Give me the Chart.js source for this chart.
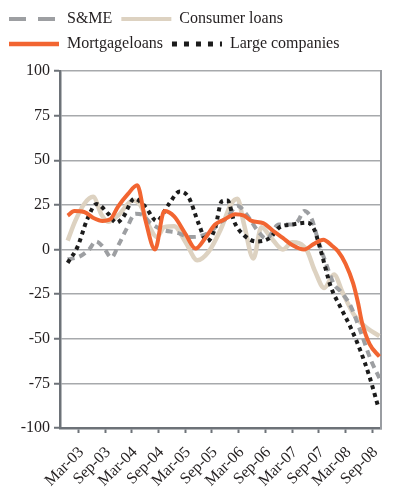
<!DOCTYPE html>
<html><head><meta charset="utf-8">
<script src="https://cdn.jsdelivr.net/npm/chart.js@4/dist/chart.umd.min.js"></script>
<style>html,body{margin:0;padding:0;background:#fff;}</style>
</head><body>
<canvas id="c" width="396" height="487"></canvas>
<script>
// x positions are months counted from Mar-03 (Mar-03 = 0)
const tickLabels = ['Mar-03','Sep-03','Mar-04','Sep-04','Mar-05','Sep-05','Mar-06','Sep-06','Mar-07','Sep-07','Mar-08','Sep-08'];
const tickMonths = [0,6,12,18,24,30,36,42,48,54,60,66];
const yTicks = [-100,-75,-50,-25,0,25,50,75,100];

const seriesNames = ['S&ME','Consumer loans','Mortgageloans','Large companies'];

const smeMonths = [-2.4,0.2,2.4,3.9,5.7,7.4,9.1,10.7,12.8,14.3,16.1,18.9,22.0,25.2,27.4,30.0,31.7,33.3,35.7,37.8,40.4,42.2,45.0,48.0,49.3,50.7,52.4,53.9,55.7,57.4,58.9,61.1,63.3,65.7,67.6];
const smeValues = [-5.5,-4,0,4.5,1,-4.5,3,11,20,19.5,15,11,9.5,7,7.5,10.5,15,17.5,24.5,19.5,10,6,14,14,16,21.5,17,4.5,-8.5,-19.5,-23.5,-31.5,-45.5,-62,-72];

const consumerMonths = [-2.4,-0.7,1.3,3.3,5.2,6.7,9.1,12.2,13.9,16.1,17.6,19.3,21.5,24.1,26.7,29.3,32.0,34.3,35.7,37.2,39.3,41.1,43.3,45.9,48.0,51.2,53.1,55.2,57.4,59.3,62.0,64.8,67.6];
const consumerValues = [5,16,25.5,29.5,19.5,15.5,19.5,27.5,25,12,7,12.5,13,4,-6,-1,11.5,25.5,28.5,14,-5,12.5,6.5,0,4,0,-12,-21.5,-14,-24,-37,-44,-48.5];

const mortgageMonths = [-2.4,-0.9,1.3,3.5,5.4,7.2,8.9,11.1,13.2,15.0,17.2,19.3,21.5,24.1,26.3,28.5,30.7,32.8,35.2,37.2,38.9,41.5,43.7,45.9,48.0,50.7,52.8,55.0,57.0,58.3,60.0,61.7,62.8,63.7,65.4,67.6];
const mortgageValues = [19,21.5,21,17.5,16,17,24,31,36,17,0,21.5,18.5,8.5,0.5,6.5,14,16.8,19.8,19,16,14.8,10.5,6.5,2.5,0,3,5.5,2,-1,-8,-19,-30,-41,-53,-60];

const largeMonths = [-2.4,-0.2,2.0,4.1,6.7,8.5,10.0,12.6,15.0,17.6,20.2,22.8,24.8,27.0,28.9,30.7,32.2,33.5,35.0,37.2,40.0,43.0,45.2,48.0,51.5,53.0,53.9,54.8,56.7,58.9,61.1,63.3,65.4,67.2];
const largeValues = [-7.5,1.5,17,25.5,20,15,18,28.5,24,16,25,32.5,29,14.5,4.5,12,27,27.5,15.5,8,4.5,6.5,12.5,14,15,11,4,-4,-21,-32.5,-43.5,-56.5,-71.5,-87];

const pts = (xs, ys) => xs.map((x, i) => ({x: x, y: ys[i]}));

const styles = [
  {color:'#9d9fa2', width:4, dash:[7,5], legendDash:[17,12], legendWidth:4, order:2},
  {color:'#ddd2c1', width:4.5, dash:[], legendDash:[], legendWidth:4, order:3},
  {color:'#f26531', width:4, dash:[], legendDash:[], legendWidth:4.5, order:0},
  {color:'#1c1c1c', width:4, dash:[4,4], legendDash:[5,7], legendWidth:5, order:1}
];
const seriesData = [pts(smeMonths, smeValues), pts(consumerMonths, consumerValues), pts(mortgageMonths, mortgageValues), pts(largeMonths, largeValues)];

const datasets = seriesNames.map((name, i) => ({
  label: name,
  data: seriesData[i],
  borderColor: styles[i].color,
  backgroundColor: styles[i].color,
  borderWidth: styles[i].width,
  borderDash: styles[i].dash,
  borderCapStyle: 'butt',
  borderJoinStyle: 'round',
  pointRadius: 0,
  fill: false,
  cubicInterpolationMode: 'monotone',
  order: styles[i].order
}));

const FONT = {family: '"Liberation Serif", "Times New Roman", serif', size: 16};
const AXIS = '#6d7278';

const legendGap = {
  id: 'legendGap',
  beforeInit(chart) {
    const origFit = chart.legend.fit;
    chart.legend.fit = function() {
      origFit.call(this);
      this.height += 9;
    };
  }
};

new Chart(document.getElementById('c'), {
  type: 'line',
  data: {datasets: datasets},
  plugins: [legendGap],
  options: {
    responsive: false,
    animation: false,
    devicePixelRatio: 1,
    layout: {padding: {left: 0, right: 4, top: 2, bottom: 0}},
    plugins: {
      tooltip: {enabled: false},
      legend: {
        display: true,
        position: 'top',
        align: 'start',
        labels: {
          font: FONT,
          color: '#231f20',
          usePointStyle: true,
          pointStyleWidth: 50,
          padding: 9,
          generateLabels: (chart) => seriesNames.map((name, i) => ({
            text: name,
            datasetIndex: i,
            pointStyle: 'line',
            strokeStyle: styles[i].color,
            fillStyle: styles[i].color,
            lineWidth: styles[i].legendWidth,
            lineDash: styles[i].legendDash,
            lineCap: 'butt',
            fontColor: '#231f20',
            hidden: false
          }))
        }
      }
    },
    scales: {
      x: {
        type: 'linear',
        min: -4.13,
        max: 68.04,
        afterBuildTicks: (scale) => { scale.ticks = tickMonths.map(v => ({value: v})); },
        afterFit: (scale) => { scale.height = 59; },
        ticks: {
          font: FONT,
          color: '#231f20',
          autoSkip: false,
          minRotation: 45,
          maxRotation: 45,
          padding: 10,
          labelOffset: 3,
          callback: (v) => tickLabels[tickMonths.indexOf(v)]
        },
        grid: {drawOnChartArea: false, tickLength: 5, tickColor: AXIS, tickWidth: 2},
        border: {color: AXIS, width: 2.5}
      },
      y: {
        min: -100,
        max: 100,
        afterBuildTicks: (scale) => { scale.ticks = yTicks.map(v => ({value: v})); },
        afterFit: (scale) => { scale.width = 60; },
        ticks: {font: FONT, color: '#231f20', padding: 4},
        grid: {color: '#a7a9ac', lineWidth: 1.5, tickLength: 6, tickColor: AXIS, tickWidth: 2},
        border: {color: AXIS, width: 2.5}
      },
      y2: {
        position: 'right',
        min: -100,
        max: 100,
        afterFit: (scale) => { scale.width = 0; },
        ticks: {display: false},
        grid: {drawOnChartArea: false, drawTicks: false},
        border: {color: '#9a9da2', width: 2}
      }
    }
  }
});
</script>
</body></html>
